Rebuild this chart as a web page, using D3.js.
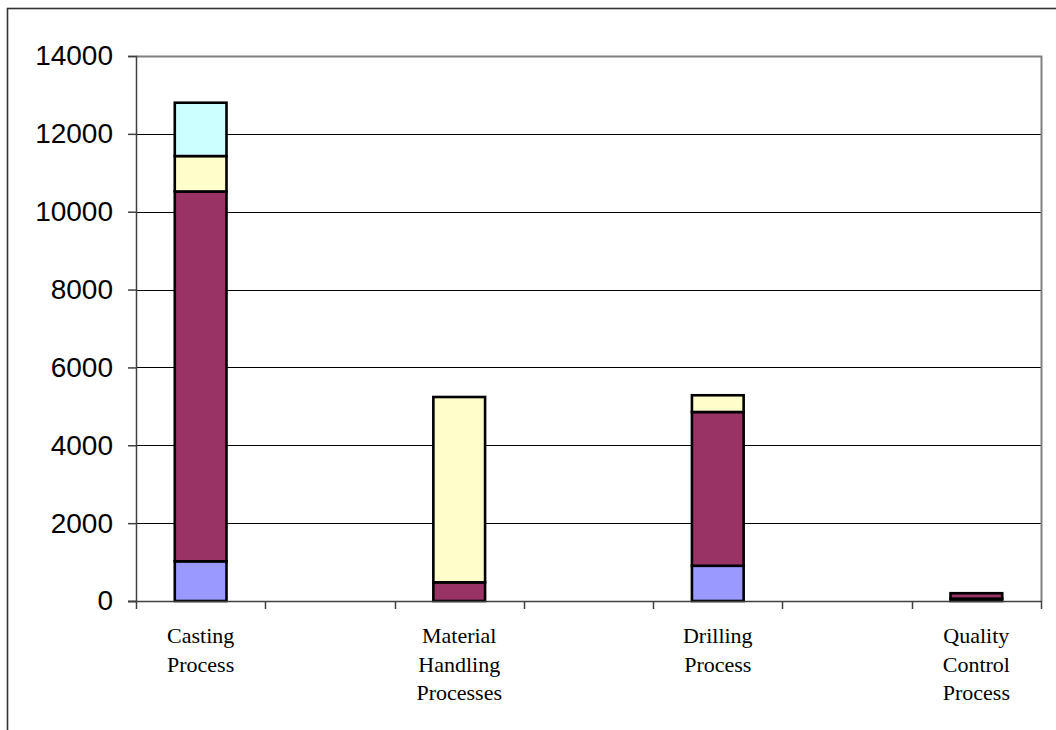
<!DOCTYPE html>
<html>
<head>
<meta charset="utf-8">
<script src="https://cdn.jsdelivr.net/npm/d3@7"></script>
<style>
  html, body { margin: 0; padding: 0; background: #fff; }
  svg { display: block; }
</style>
</head>
<body>
<svg id="chart" width="1056" height="730"></svg>
<script>
// ---- data ----
const categories = ["Casting\nProcess", "", "Material\nHandling\nProcesses", "", "Drilling\nProcess", "", "Quality\nControl\nProcess"];
const seriesNames = ["Series 1", "Series 2", "Series 3", "Series 4"];
const series1 = [1020, 0, 0, 0, 905, 0, 60];
const series2 = [9500, 0, 480, 0, 3950, 0, 140];
const series3 = [910, 0, 4760, 0, 430, 0, 0];
const series4 = [1370, 0, 0, 0, 0, 0, 0];
const yTicks = [0, 2000, 4000, 6000, 8000, 10000, 12000, 14000];
const colors = ["#9999FF", "#993366", "#FFFFCC", "#CCFFFF"];

// ---- layout ----
const svg = d3.select("#chart");
const plot = { left: 136, top: 56, right: 1041, bottom: 601 };

// outer chart frame (extends past the viewport on right/bottom)
svg.append("rect")
  .attr("x", 7.5).attr("y", 8.5)
  .attr("width", 1100).attr("height", 800)
  .attr("fill", "none").attr("stroke", "#333").attr("stroke-width", 1.6);

const idx = d3.range(categories.length);
const x = d3.scaleBand().domain(idx).range([plot.left, plot.right])
  .paddingInner(0.6).paddingOuter(0.3);
const y = d3.scaleLinear().domain([0, 14000]).range([plot.bottom, plot.top]);

// gridlines
svg.append("g").selectAll("line")
  .data(yTicks.filter(t => t > 0 && t < 14000))
  .join("line")
  .attr("x1", plot.left).attr("x2", plot.right)
  .attr("y1", d => Math.round(y(d)) + 0.5).attr("y2", d => Math.round(y(d)) + 0.5)
  .attr("stroke", "#000").attr("stroke-width", 1);

// plot border top & right (gray)
svg.append("path")
  .attr("d", `M${plot.left},${y(14000) + 0.5} H${plot.right + 0.5} V${plot.bottom}`)
  .attr("fill", "none").attr("stroke", "#808080").attr("stroke-width", 2);

// stacked data
const table = idx.map(i => {
  const o = { i };
  seriesNames.forEach((s, k) => { o[s] = [series1, series2, series3, series4][k][i]; });
  return o;
});
const stacked = d3.stack().keys(seriesNames)(table);

const gBars = svg.append("g");
stacked.forEach((layer, k) => {
  gBars.append("g").selectAll("rect")
    .data(layer.filter(d => d[1] - d[0] > 0))
    .join("rect")
    .attr("x", d => x(d.data.i))
    .attr("width", x.bandwidth())
    .attr("y", d => y(d[1]))
    .attr("height", d => y(d[0]) - y(d[1]))
    .attr("fill", colors[k])
    .attr("stroke", "#000")
    .attr("stroke-width", 2.6);
});

// y axis
const yAxis = d3.axisLeft(y).tickValues(yTicks).tickSize(8).tickPadding(15)
  .tickFormat(d3.format("d"));
const gy = svg.append("g").attr("transform", `translate(${plot.left},0)`).call(yAxis);
gy.select(".domain").attr("stroke", "#404040").attr("stroke-width", 1.5);
gy.selectAll(".tick line").attr("stroke", "#404040").attr("stroke-width", 1.5);
gy.selectAll(".tick text")
  .attr("font-family", "'Liberation Sans', Arial, sans-serif")
  .attr("font-size", 28).attr("fill", "#000");

// x axis line
svg.append("line")
  .attr("x1", plot.left - 8).attr("x2", plot.right + 1)
  .attr("y1", plot.bottom + 0.5).attr("y2", plot.bottom + 0.5)
  .attr("stroke", "#404040").attr("stroke-width", 1.5);

// x ticks at category boundaries
const step = x.step();
const boundaries = d3.range(categories.length + 1).map(i =>
  i < categories.length ? x(i) - x.paddingInner() * step / 2 : x(categories.length - 1) + x.bandwidth() + x.paddingInner() * step / 2);
svg.append("g").selectAll("line")
  .data(boundaries)
  .join("line")
  .attr("x1", d => Math.round(d) + 0.5).attr("x2", d => Math.round(d) + 0.5)
  .attr("y1", plot.bottom).attr("y2", plot.bottom + 8)
  .attr("stroke", "#404040").attr("stroke-width", 1.5);

// category labels
const gl = svg.append("g")
  .attr("font-family", "'Liberation Serif', 'Times New Roman', serif")
  .attr("font-size", 22).attr("fill", "#000").attr("text-anchor", "middle");
idx.forEach(i => {
  if (!categories[i]) return;
  const t = gl.append("text").attr("x", x(i) + x.bandwidth() / 2).attr("y", 643);
  categories[i].split("\n").forEach((line, j) => {
    t.append("tspan").attr("x", x(i) + x.bandwidth() / 2).attr("dy", j === 0 ? 0 : 28.5).text(line);
  });
});
</script>
</body>
</html>
